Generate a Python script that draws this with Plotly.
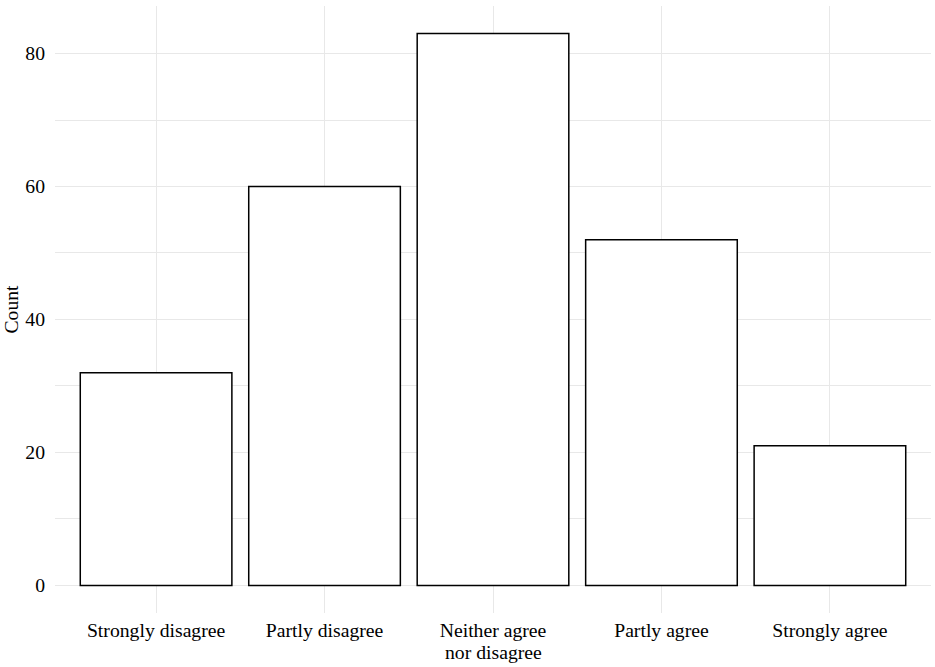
import plotly.graph_objects as go

categories = ["Strongly disagree", "Partly disagree", "Neither agree nor disagree", "Partly agree", "Strongly agree"]
tick_labels = ["Strongly disagree", "Partly disagree", "Neither agree<br>nor disagree", "Partly agree", "Strongly agree"]
counts = [32, 60, 83, 52, 21]
y_ticks = [0, 20, 40, 60, 80]

FONT = "Liberation Serif"
GRID = "#e8e8e8"
FS = 19.7

fig = go.Figure(go.Bar(
    x=categories, y=counts, width=0.9,
    marker=dict(color="white", line=dict(color="black", width=1.5)),
))

first_lines = [t.split("<br>")[0] for t in tick_labels]
for cat, t in zip(categories, tick_labels):
    parts = t.split("<br>")
    for i, extra in enumerate(parts[1:], start=1):
        fig.add_annotation(
            x=cat, xref="x", y=0, yref="paper", yanchor="middle",
            yshift=-18 - 21 * i, text=extra, showarrow=False,
            font=dict(family=FONT, size=FS, color="black"),
        )

fig.update_layout(
    width=935, height=667,
    margin=dict(l=55, r=4, t=6, b=54),
    paper_bgcolor="white", plot_bgcolor="white",
    font=dict(family=FONT, size=FS, color="black"),
    showlegend=False,
    bargap=0.1,
)
fig.update_xaxes(
    range=[-0.6, 4.6], showgrid=True, gridcolor=GRID, gridwidth=1.4,
    zeroline=False, showline=False, automargin=False,
    tickvals=categories, ticktext=first_lines,
    ticks="", ticklabelstandoff=3,
    tickfont=dict(family=FONT, size=FS, color="black"),
)
fig.update_yaxes(
    range=[-4.15, 87.15], tickvals=y_ticks,
    showgrid=True, gridcolor=GRID, gridwidth=1.4,
    minor=dict(dtick=10, tick0=0, showgrid=True, gridcolor=GRID, gridwidth=0.7),
    zeroline=False, showline=False, automargin=False,
    ticks="outside", ticklen=5, tickcolor="rgba(0,0,0,0)",
    tickfont=dict(family=FONT, size=FS, color="black"),
    title=dict(text="Count", font=dict(family=FONT, size=FS, color="black"), standoff=6),
)

fig.write_html("out.html", config={"displayModeBar": False},
               post_script="document.body.style.margin='0px';document.body.style.overflow='hidden';")
